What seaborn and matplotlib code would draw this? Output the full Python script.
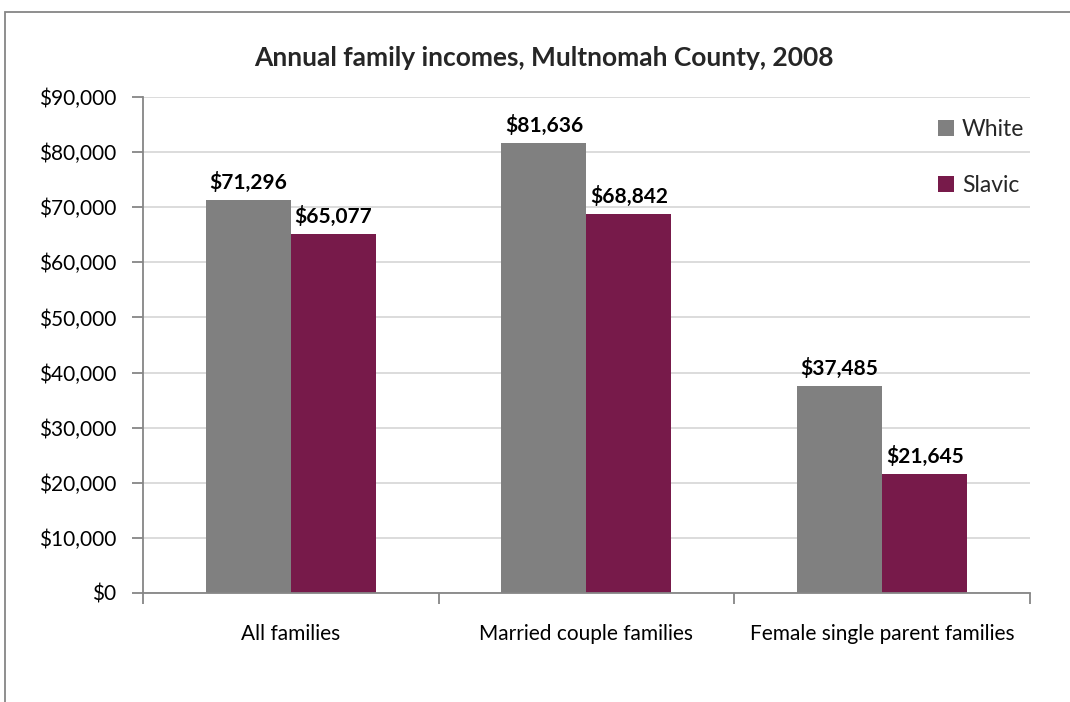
import matplotlib
matplotlib.use("Agg")
import matplotlib.pyplot as plt
from matplotlib.patches import Rectangle
from matplotlib.ticker import FuncFormatter, FixedLocator
import seaborn as sns
import pandas as pd

categories = ["All families", "Married couple families", "Female single parent families"]
groups = ["White", "Slavic"]
white_income = [71296, 81636, 37485]
slavic_income = [65077, 68842, 21645]
y_ticks = [0, 10000, 20000, 30000, 40000, 50000, 60000, 70000, 80000, 90000]

df = pd.DataFrame({
    "category": categories * 2,
    "group": [groups[0]] * 3 + [groups[1]] * 3,
    "income": white_income + slavic_income,
})

sns.set_theme(style="white")
plt.rcParams["font.family"] = ["Lato", "DejaVu Sans"]

fig = plt.figure(figsize=(10.7, 7.02), dpi=100)
ax = fig.add_axes([0.1336, 0.1553, 0.8290, 0.7065])

palette = {"White": "#808080", "Slavic": "#771A4A"}
sns.barplot(data=df, x="category", y="income", hue="group", hue_order=groups,
            order=categories, palette=palette, width=0.575, gap=0,
            saturation=1, ax=ax, errorbar=None, legend=True)

for patch in ax.patches:
    patch.set_edgecolor("none")

for cont, vals in zip(ax.containers, [white_income, slavic_income]):
    ax.bar_label(cont, labels=[f"${v:,.0f}" for v in vals], padding=5,
                 fontsize=15, fontweight="bold", color="black")

ax.set_ylim(0, 90000)
ax.set_xlim(-0.5, 2.5)
ax.set_yticks(y_ticks)
ax.yaxis.set_major_formatter(FuncFormatter(lambda v, p: f"${v:,.0f}"))
ax.yaxis.grid(True, color="#d9d9d9", linewidth=1.3)
ax.set_axisbelow(True)
ax.set_xlabel("")
ax.set_ylabel("")

for side in ["top", "right"]:
    ax.spines[side].set_visible(False)
for side in ["left", "bottom"]:
    ax.spines[side].set_color("#868686")
    ax.spines[side].set_linewidth(1.3)

ax.tick_params(axis="y", which="major", left=True, length=8, width=1.3,
               color="#868686", labelsize=15, pad=11, labelcolor="black")
ax.tick_params(axis="x", which="major", bottom=False, length=0,
               labelsize=15, pad=22, labelcolor="black")
ax.xaxis.set_minor_locator(FixedLocator([-0.5, 0.5, 1.5, 2.5]))
ax.tick_params(axis="x", which="minor", bottom=True, length=8, width=1.3,
               color="#868686")

leg = ax.legend(loc="upper right", bbox_to_anchor=(1.004, 0.975), frameon=False,
                fontsize=16.5, handlelength=0.7, handleheight=0.7,
                handletextpad=0.35, labelspacing=1.55, borderaxespad=0)

fig.text(0.508, 0.918, "Annual family incomes, Multnomah County, 2008",
         ha="center", va="center", fontsize=19, fontweight="bold")

# outer chart frame
fig.patches.append(Rectangle((5 / 1070, -0.1), 1.2, (702 - 12) / 702 + 0.1,
                             transform=fig.transFigure, fill=False,
                             edgecolor="#868686", linewidth=1.3))

fig.savefig("out.png", dpi=100)
